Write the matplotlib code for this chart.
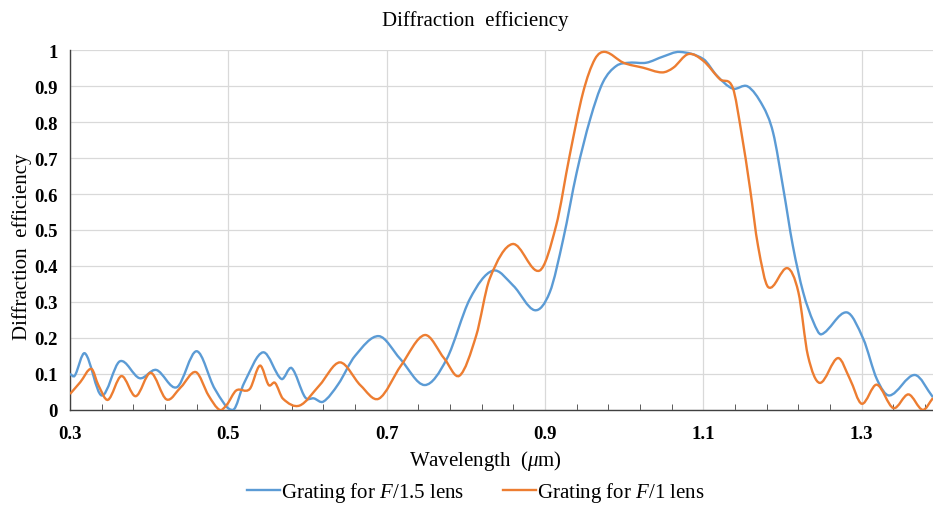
import numpy as np
import matplotlib
matplotlib.use("Agg")
import matplotlib.pyplot as plt
from matplotlib.path import Path
from matplotlib.patches import PathPatch
from matplotlib.lines import Line2D

plt.rcParams['font.family'] = ['Liberation Serif', 'DejaVu Serif']
plt.rcParams['mathtext.fontset'] = 'custom'
plt.rcParams['mathtext.rm'] = 'Liberation Serif'
plt.rcParams['mathtext.it'] = 'Liberation Serif:italic'

# ---- data ----
blue_x = [0.300, 0.306, 0.319, 0.340, 0.363, 0.388, 0.409, 0.435, 0.460, 0.483, 0.506,
          0.520, 0.544, 0.567, 0.580, 0.597, 0.608, 0.620, 0.639, 0.660, 0.690, 0.717,
          0.748, 0.776, 0.805, 0.834, 0.860, 0.887, 0.906, 0.923, 0.940, 0.957, 0.973,
          0.990, 1.007, 1.028, 1.049, 1.070, 1.100, 1.117, 1.137, 1.156, 1.175, 1.188,
          1.201, 1.213, 1.226, 1.239, 1.249, 1.281, 1.302, 1.319, 1.335, 1.367, 1.390]
blue_y = [0.100, 0.095, 0.157, 0.040, 0.135, 0.088, 0.111, 0.063, 0.163, 0.058, 0.000,
          0.075, 0.160, 0.086, 0.116, 0.035, 0.032, 0.023, 0.072, 0.150, 0.205, 0.142,
          0.069, 0.142, 0.308, 0.387, 0.345, 0.277, 0.327, 0.475, 0.660, 0.808, 0.910,
          0.956, 0.965, 0.965, 0.982, 0.995, 0.975, 0.929, 0.893, 0.899, 0.845, 0.771,
          0.614, 0.456, 0.327, 0.244, 0.210, 0.271, 0.197, 0.086, 0.040, 0.097, 0.035]

orange_x = [0.300, 0.313, 0.327, 0.336, 0.348, 0.365, 0.383, 0.402, 0.422, 0.440, 0.459,
            0.475, 0.489, 0.498, 0.510, 0.527, 0.540, 0.551, 0.559, 0.569, 0.590, 0.615,
            0.641, 0.667, 0.690, 0.718, 0.748, 0.773, 0.792, 0.813, 0.830, 0.859, 0.893,
            0.914, 0.931, 0.948, 0.963, 0.976, 0.999, 1.024, 1.048, 1.062, 1.081, 1.100,
            1.121, 1.137, 1.148, 1.159, 1.169, 1.182, 1.206, 1.220, 1.232, 1.247, 1.270,
            1.285, 1.300, 1.319, 1.340, 1.359, 1.377, 1.390]
orange_y = [0.044, 0.077, 0.114, 0.068, 0.028, 0.094, 0.038, 0.103, 0.029, 0.063, 0.105,
            0.040, 0.000, 0.014, 0.054, 0.058, 0.123, 0.069, 0.075, 0.031, 0.012, 0.068,
            0.132, 0.068, 0.031, 0.123, 0.208, 0.142, 0.095, 0.206, 0.364, 0.461, 0.387,
            0.512, 0.706, 0.882, 0.975, 0.995, 0.965, 0.951, 0.938, 0.951, 0.989, 0.970,
            0.919, 0.896, 0.771, 0.614, 0.456, 0.341, 0.394, 0.327, 0.151, 0.075, 0.144,
            0.086, 0.017, 0.070, 0.005, 0.043, 0.000, 0.033]

series_labels = ['Grating for $F$/1.5 lens', 'Grating for $F$/1 lens']
colors = ['#5B9BD5', '#ED7D31']
x_ticks = [0.3, 0.5, 0.7, 0.9, 1.1, 1.3]
x_ticklabels = ['0.3', '0.5', '0.7', '0.9', '1.1', '1.3']
y_ticks = [0, 0.1, 0.2, 0.3, 0.4, 0.5, 0.6, 0.7, 0.8, 0.9, 1.0]
y_ticklabels = ['0', '0.1', '0.2', '0.3', '0.4', '0.5', '0.6', '0.7', '0.8', '0.9', '1']


def smooth_path(xs, ys):
    """Catmull-Rom style cubic Bezier path through the data points."""
    xs = np.asarray(xs, float)
    ys = np.asarray(ys, float)
    n = len(xs)
    verts = [(xs[0], ys[0])]
    codes = [Path.MOVETO]
    for i in range(n - 1):
        i0 = max(i - 1, 0)
        i3 = min(i + 2, n - 1)
        h = xs[i + 1] - xs[i]
        m1 = (ys[i + 1] - ys[i0]) / (xs[i + 1] - xs[i0])
        m2 = (ys[i3] - ys[i]) / (xs[i3] - xs[i])
        c1 = (xs[i] + h / 3, ys[i] + m1 * h / 3)
        c2 = (xs[i + 1] - h / 3, ys[i + 1] - m2 * h / 3)
        verts += [c1, c2, (xs[i + 1], ys[i + 1])]
        codes += [Path.CURVE4] * 3
    return Path(verts, codes)


fig = plt.figure(figsize=(9.33, 5.06), dpi=100)
ax = fig.add_axes([0.075, 0.188, 0.925, 0.711])

for xs, ys, c in [(blue_x, blue_y, colors[0]), (orange_x, orange_y, colors[1])]:
    patch = PathPatch(smooth_path(xs, ys), facecolor='none', edgecolor=c, lw=1.7,
                      transform=ax.transData, clip_on=True, zorder=3)
    ax.add_patch(patch)

ax.set_xlim(0.3, 1.39)
ax.set_ylim(0, 1.0)
ax.set_xticks(x_ticks)
ax.set_xticklabels(x_ticklabels, fontweight='bold', fontsize=13.5)
ax.set_xticks(np.arange(0.3, 1.39, 0.04), minor=True)
ax.set_yticks(y_ticks)
ax.set_yticklabels(y_ticklabels, fontweight='bold', fontsize=13.5)
ax.tick_params(axis='both', which='both', direction='in', color='#404040')
ax.tick_params(axis='x', which='major', length=0, pad=11)
ax.tick_params(axis='x', which='minor', length=4)
ax.tick_params(axis='y', which='major', length=0, pad=9)
ax.grid(True, which='major', color='#d9d9d9', lw=0.9)
ax.set_axisbelow(True)
for s in ['top', 'right']:
    ax.spines[s].set_visible(False)
for s in ['left', 'bottom']:
    ax.spines[s].set_color('#404040')
    ax.spines[s].set_linewidth(1.0)

fig.text(0.509, 1 - 21 / 506, 'Diffraction  efficiency', fontsize=15,
         ha='center', va='center')
ax.set_xlabel(r'Wavelength  ($\mu$m)', fontsize=15, labelpad=6)
ax.xaxis.set_label_coords(0.481, -0.105)
ax.set_ylabel('Diffraction  efficiency', fontsize=15)
ax.yaxis.set_label_coords(-0.044, 0.456)

handles = [Line2D([], [], color=c, lw=1.7) for c in colors]
fig.legend(handles, series_labels, loc='center', bbox_to_anchor=(0.51, 1 - 493 / 506),
           ncol=2, frameon=False, fontsize=15, handlelength=1.55, handletextpad=0.05,
           columnspacing=1.9)

fig.savefig('out.png', dpi=100)
